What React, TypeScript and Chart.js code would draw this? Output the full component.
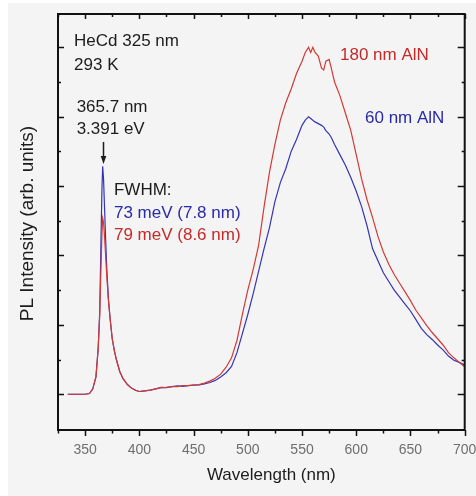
import React, { useEffect, useRef } from 'react';
import { Chart, registerables } from 'chart.js';

Chart.register(...registerables);

// Wavelength (nm)
const wavelengths = [
  334, 340, 345, 350, 354, 357, 360, 362, 363.5, 364.5, 365.5, 366.2, 367, 368, 369, 370, 371.5, 373, 375, 377,
  379, 382, 385, 389, 393, 397, 400, 405, 410, 415, 420, 425, 430, 435, 440, 445, 450, 455, 460, 465,
  470, 475, 480, 485, 490, 495, 500, 505, 510, 515, 520, 525, 530, 535, 540, 545, 550, 553, 556, 558,
  560, 562, 565, 568, 570, 572, 575, 577, 580, 585, 590, 595, 600, 605, 610, 615, 620, 625, 630, 635,
  640, 645, 650, 655, 660, 665, 670, 675, 680, 685, 690, 695, 700,
];

// PL intensity, 180 nm AlN (red)
const pl180nm = [
  0, 0, 0, 0, 0.02, 0.15, 0.5, 1.3, 2.3, 3.5, 4.6, 5.07, 4.95, 4.5, 3.95, 3.4, 2.7, 2.2, 1.6, 1.25,
  0.98, 0.65, 0.45, 0.28, 0.17, 0.11, 0.08, 0.1, 0.12, 0.15, 0.19, 0.2, 0.22, 0.22, 0.25, 0.25, 0.27, 0.28, 0.32, 0.38,
  0.46, 0.58, 0.78, 1.05, 1.55, 2.3, 3.0, 3.6, 4.3, 5.4, 6.4, 7.2, 7.9, 8.4, 8.8, 9.25, 9.6, 9.85, 10.0, 9.85,
  10.0, 9.85, 9.75, 9.4, 9.35, 9.6, 9.65, 9.4, 9.0, 8.6, 8.1, 7.6, 6.9, 6.2, 5.6, 5.1, 4.55, 4.1, 3.75, 3.45,
  3.2, 2.95, 2.7, 2.42, 2.2, 1.98, 1.78, 1.6, 1.42, 1.2, 1.05, 0.92, 0.79,
];

// PL intensity, 60 nm AlN (blue)
const pl60nm = [
  0, 0, 0, 0, 0.02, 0.15, 0.5, 1.3, 2.4, 4.2, 5.9, 6.57, 6.2, 5.3, 4.4, 3.6, 2.75, 2.2, 1.6, 1.25,
  0.98, 0.65, 0.45, 0.28, 0.17, 0.11, 0.08, 0.1, 0.12, 0.16, 0.2, 0.19, 0.22, 0.24, 0.23, 0.25, 0.26, 0.27, 0.3, 0.34,
  0.4, 0.5, 0.62, 0.8, 1.2, 1.75, 2.3, 2.9, 3.55, 4.2, 4.8, 5.55, 6.1, 6.5, 7.0, 7.35, 7.75, 7.9, 8.0, 7.95,
  7.9, 7.85, 7.8, 7.75, 7.7, 7.6, 7.5, 7.4, 7.2, 6.9, 6.6, 6.25, 5.85, 5.4, 4.85, 4.2, 3.85, 3.5, 3.25, 3.0,
  2.8, 2.6, 2.4, 2.15, 1.9, 1.72, 1.58, 1.42, 1.28, 1.1, 0.98, 0.92, 0.84,
];

const xMajorTicks = [350, 400, 450, 500, 550, 600, 650, 700];
const xMinorTicks = [325, 375, 425, 475, 525, 575, 625, 675];
const yMajorTicks = [0, 2, 4, 6, 8, 10];
const yMinorTicks = [1, 3, 5, 7, 9];

const FONT = '"Liberation Sans", Arial, Helvetica, sans-serif';
const RED_LINE = '#d23a36';
const BLUE_LINE = '#3535b4';
const RED_TEXT = '#c42a2a';
const BLUE_TEXT = '#2a2aa8';
const DARK = '#1c1c1c';

const decorPlugin = {
  id: 'decor',
  afterDraw(chart: any) {
    const { ctx, chartArea: a, scales } = chart;
    const x = scales.x;
    const y = scales.y;
    ctx.save();
    // frame
    ctx.strokeStyle = '#111';
    ctx.lineWidth = 2;
    ctx.strokeRect(a.left, a.top, a.right - a.left, a.bottom - a.top);
    // tick marks
    ctx.lineWidth = 1.5;
    ctx.beginPath();
    xMajorTicks.forEach((v) => {
      const px = Math.round(x.getPixelForValue(v)) + 0.5;
      ctx.moveTo(px, a.bottom); ctx.lineTo(px, a.bottom + 6);
      ctx.moveTo(px, a.top); ctx.lineTo(px, a.top + 5);
    });
    xMinorTicks.forEach((v) => {
      const px = Math.round(x.getPixelForValue(v)) + 0.5;
      ctx.moveTo(px, a.bottom); ctx.lineTo(px, a.bottom + 3.5);
      ctx.moveTo(px, a.top); ctx.lineTo(px, a.top + 3);
    });
    yMajorTicks.forEach((v) => {
      const py = Math.round(y.getPixelForValue(v)) + 0.5;
      ctx.moveTo(a.left, py); ctx.lineTo(a.left + 6, py);
      ctx.moveTo(a.right, py); ctx.lineTo(a.right - 7, py);
    });
    yMinorTicks.forEach((v) => {
      const py = Math.round(y.getPixelForValue(v)) + 0.5;
      ctx.moveTo(a.left, py); ctx.lineTo(a.left + 3, py);
      ctx.moveTo(a.right, py); ctx.lineTo(a.right - 3, py);
    });
    ctx.stroke();

    // annotations
    ctx.font = `17px ${FONT}`;
    ctx.textBaseline = 'middle';
    ctx.textAlign = 'left';
    const text = (s: string, lam: number, v: number, color: string) => {
      ctx.fillStyle = color;
      ctx.fillText(s, x.getPixelForValue(lam), y.getPixelForValue(v));
    };
    text('HeCd 325 nm', 339.8, 10.18, DARK);
    text('293 K', 339.8, 9.49, DARK);
    text('365.7 nm', 342.2, 8.28, DARK);
    text('3.391 eV', 342.2, 7.63, DARK);
    text('FWHM:', 376.6, 5.87, DARK);
    text('73 meV (7.8 nm)', 376.6, 5.22, BLUE_TEXT);
    text('79 meV (8.6 nm)', 376.6, 4.59, RED_TEXT);
    text('180 nm AlN', 585.0, 9.76, RED_TEXT);
    text('60 nm AlN', 608.1, 7.96, BLUE_TEXT);

    // arrow to the band-edge peak
    const ax = Math.round(x.getPixelForValue(366.5)) + 0.5;
    const ay0 = y.getPixelForValue(7.27);
    const ay1 = y.getPixelForValue(6.64);
    ctx.strokeStyle = DARK;
    ctx.fillStyle = DARK;
    ctx.lineWidth = 1.5;
    ctx.beginPath();
    ctx.moveTo(ax, ay0);
    ctx.lineTo(ax, ay1 - 6);
    ctx.stroke();
    ctx.beginPath();
    ctx.moveTo(ax - 2.8, ay1 - 8);
    ctx.lineTo(ax + 2.8, ay1 - 8);
    ctx.lineTo(ax, ay1);
    ctx.closePath();
    ctx.fill();

    // axis titles
    ctx.fillStyle = DARK;
    ctx.textAlign = 'center';
    ctx.font = `17px ${FONT}`;
    ctx.fillText('Wavelength (nm)', (a.left + a.right) / 2 + 10, a.bottom + 45);
    ctx.save();
    ctx.translate(a.left - 30.5, (a.top + a.bottom) / 2 + 1.5);
    ctx.rotate(-Math.PI / 2);
    ctx.font = `19px ${FONT}`;
    ctx.fillText('PL Intensity (arb. units)', 0, 0);
    ctx.restore();

    ctx.restore();
  },
};

export default function App() {
  const ref = useRef<HTMLCanvasElement | null>(null);

  useEffect(() => {
    if (!ref.current) return;
    const chart = new Chart(ref.current, {
      type: 'line',
      data: {
        datasets: [
          {
            label: '180 nm AlN',
            data: wavelengths.map((w, i) => ({ x: w, y: pl180nm[i] })),
            borderColor: RED_LINE,
            borderWidth: 1.2,
            pointRadius: 0,
            tension: 0,
            fill: false,
          },
          {
            label: '60 nm AlN',
            data: wavelengths.map((w, i) => ({ x: w, y: pl60nm[i] })),
            borderColor: BLUE_LINE,
            borderWidth: 1.2,
            pointRadius: 0,
            tension: 0,
            fill: false,
          },
        ],
      },
      options: {
        responsive: false,
        animation: false,
        layout: { padding: { left: 50, top: 11, right: 33.3, bottom: 25.2 } },
        plugins: { legend: { display: false }, tooltip: { enabled: false } },
        scales: {
          x: {
            type: 'linear',
            min: 325,
            max: 700,
            grid: { display: false, drawTicks: false },
            border: { display: false },
            ticks: {
              stepSize: 25,
              autoSkip: false,
              maxRotation: 0,
              padding: 12,
              color: '#6e6e6e',
              font: { family: FONT, size: 14 },
              callback: (v: any) => (Number(v) % 50 === 0 ? String(v) : ''),
            },
          },
          y: {
            type: 'linear',
            min: -1.03,
            max: 10.96,
            grid: { display: false, drawTicks: false },
            border: { display: false },
            ticks: { display: false },
          },
        },
      },
      plugins: [decorPlugin],
    });
    return () => chart.destroy();
  }, []);

  return (
    <div
      style={{
        position: 'absolute',
        left: 8,
        top: 3,
        width: 468,
        height: 493,
        overflow: 'hidden',
        background: '#f3f4f3',
      }}
    >
      <canvas ref={ref} width={490} height={493} style={{ display: 'block' }} />
    </div>
  );
}
